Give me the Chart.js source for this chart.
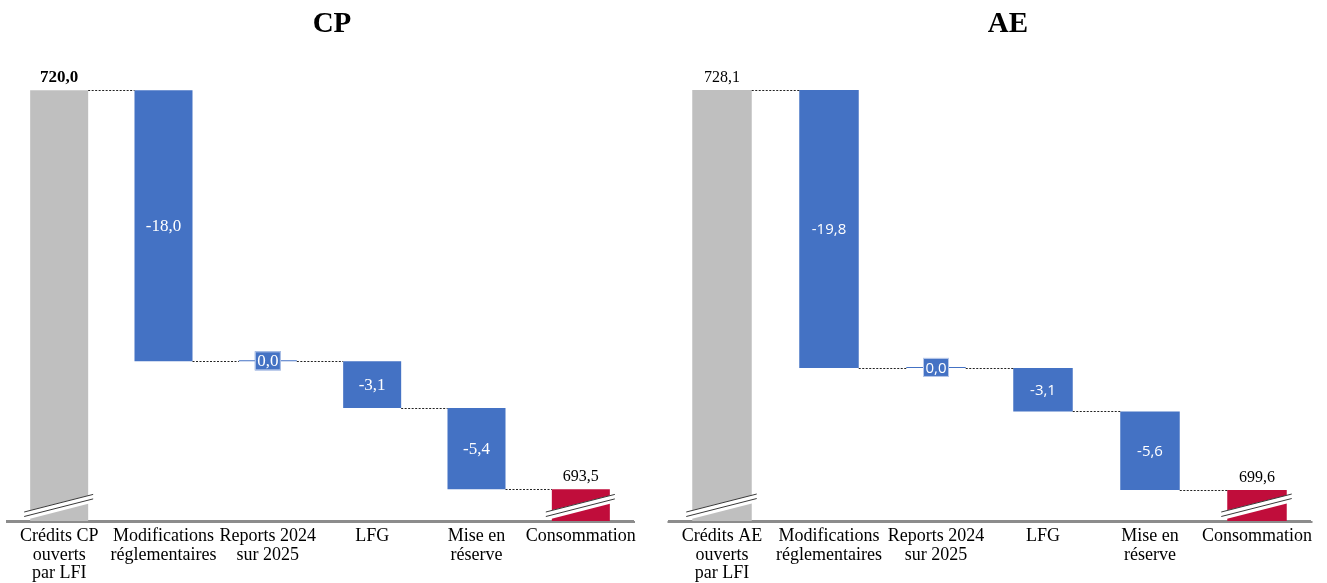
<!DOCTYPE html>
<html><head><meta charset="utf-8">
<script src="https://cdn.jsdelivr.net/npm/chart.js@4.4.1/dist/chart.umd.min.js"></script>
<style>
html,body{margin:0;padding:0;background:#fff;}
#wrap{position:relative;width:1327px;height:583px;overflow:hidden;}
#c1{position:absolute;left:0;top:0;width:663px;height:583px;}
#c2{position:absolute;left:663px;top:0;width:664px;height:583px;}
</style></head><body>
<div id="wrap"><canvas id="c1" width="663" height="583"></canvas><canvas id="c2" width="664" height="583"></canvas></div>
<script>
// ---- data ----
const cpCategories = [['Crédits CP','ouverts','par LFI'], ['Modifications','réglementaires'], ['Reports 2024','sur 2025'], 'LFG', ['Mise en','réserve'], 'Consommation'];
const cpStart = 720.0;
const cpDeltas = [-18.0, 0.0, -3.1, -5.4];
const cpEnd = 693.5;
const cpAxisMin = 691.4;
const cpAxisMax = 723.0;

const aeCategories = [['Crédits AE','ouverts','par LFI'], ['Modifications','réglementaires'], ['Reports 2024','sur 2025'], 'LFG', ['Mise en','réserve'], 'Consommation'];
const aeStart = 728.1;
const aeDeltas = [-19.8, 0.0, -3.1, -5.6];
const aeEnd = 699.6;
const aeAxisMin = 697.4;
const aeAxisMax = 731.3;

// ---- helpers ----
const fmt = v => (Math.abs(v) < 0.05 ? 0 : v).toFixed(1).replace('.', ',');
const GRAY = '#BFBFBF', BLUE = '#4472C4', RED = '#C00D3B';
const decor = {};

const waterfallPlugin = {
  id: 'waterfall',
  afterDatasetsDraw(chart) {
    const o = decor[chart.canvas.id];
    const ctx = chart.ctx;
    const els = chart.getDatasetMeta(0).data;
    const ys = chart.scales.y;
    const axisY = chart.chartArea.bottom;
    const n = els.length;
    ctx.save();
    // connectors
    ctx.strokeStyle = '#222';
    ctx.lineWidth = 1;
    ctx.setLineDash([2, 1.5]);
    for (let i = 0; i < n - 1; i++) {
      const y = Math.round(ys.getPixelForValue(o.levels[i])) + 0.5;
      const a = els[i], b = els[i + 1];
      ctx.beginPath();
      ctx.moveTo(a.x + a.width / 2, y);
      ctx.lineTo(b.x - b.width / 2, y);
      ctx.stroke();
    }
    ctx.setLineDash([]);
    // break marks on total bars
    [els[0], els[n - 1]].forEach(el => {
      const L = el.x - el.width / 2 - 6, R = el.x + el.width / 2 + 5;
      const rise = (R - L) * 0.255;
      ctx.strokeStyle = '#fff';
      ctx.lineWidth = 8;
      ctx.beginPath();
      ctx.moveTo(L, axisY - 5); ctx.lineTo(R, axisY - 5 - rise); ctx.stroke();
      ctx.strokeStyle = '#3a3a3a';
      ctx.lineWidth = 1;
      [9, 4.5].forEach(k => {
        ctx.beginPath();
        ctx.moveTo(L, axisY - k); ctx.lineTo(R, axisY - k - rise); ctx.stroke();
      });
    });
    // redraw axis line over the marks
    ctx.strokeStyle = '#8C8C8C';
    ctx.lineWidth = 2;
    ctx.beginPath();
    ctx.moveTo(chart.chartArea.left - 1, axisY + 1);
    ctx.lineTo(chart.chartArea.right + 2, axisY + 1);
    ctx.stroke();
    // labels
    ctx.textAlign = 'center';
    els.forEach((el, i) => {
      const top = Math.min(el.y, el.base), bot = Math.max(el.y, el.base);
      if (i === 0 || i === n - 1) {
        const v = i === 0 ? o.start : o.end;
        ctx.fillStyle = '#000';
        ctx.font = (i === 0 && o.totalBold) ? 'bold 17px "Liberation Serif"' : '16px "Liberation Serif"';
        ctx.textBaseline = 'alphabetic';
        ctx.fillText(fmt(v), el.x, top - 8);
      } else {
        const d = o.deltas[i - 1];
        const cy = (top + bot) / 2;
        ctx.font = o.innerFont;
        ctx.textBaseline = 'middle';
        if (Math.abs(d) < 0.05) {
          ctx.fillStyle = BLUE;
          ctx.fillRect(el.x - 13, cy - 9.5, 26, 19);
          ctx.strokeStyle = '#B8C9EA';
          ctx.lineWidth = 1;
          ctx.strokeRect(el.x - 13 + 0.5, cy - 9.5 + 0.5, 25, 18);
        }
        ctx.fillStyle = '#fff';
        ctx.fillText(fmt(d), el.x, cy + 1);
      }
    });
    // title
    ctx.fillStyle = '#000';
    ctx.font = 'bold 29px "Liberation Serif"';
    ctx.textBaseline = 'alphabetic';
    ctx.fillText(o.title, o.titleX, 32);
    ctx.restore();
  }
};

function buildChart(id, categories, start, deltas, end, yMin, yMax, opts) {
  const levels = [start];
  deltas.forEach(d => levels.push(Math.round((levels[levels.length - 1] + d) * 10) / 10));
  const data = [start, ...deltas.map((d, i) => [levels[i], levels[i + 1]]), end];
  const colors = [GRAY, ...deltas.map(() => BLUE), RED];
  decor[id] = { levels, start, end, deltas, title: opts.title, titleX: opts.titleX, totalBold: opts.totalBold, innerFont: opts.innerFont };
  return new Chart(document.getElementById(id), {
    type: 'bar',
    data: { labels: categories, datasets: [{ data, backgroundColor: colors, borderWidth: 0, minBarLength: 1, categoryPercentage: 1, barPercentage: 0.556 }] },
    options: {
      responsive: false, animation: false,
      layout: { padding: { left: opts.padL, right: opts.padR, top: 45, bottom: 0 } },
      plugins: { legend: { display: false }, tooltip: { enabled: false }, title: { display: false } },
      scales: {
        x: {
          grid: { display: false, drawTicks: false },
          border: { display: true, color: '#8C8C8C', width: 2 },
          ticks: { color: '#000', font: { family: 'Liberation Serif', size: 18, lineHeight: 1.03 }, padding: 6, maxRotation: 0, autoSkip: false },
          afterFit: s => { s.height = 62; }
        },
        y: { display: false, min: yMin, max: yMax }
      }
    },
    plugins: [waterfallPlugin]
  });
}

buildChart('c1', cpCategories, cpStart, cpDeltas, cpEnd, cpAxisMin, cpAxisMax,
  { padL: 7, padR: 30, title: 'CP', titleX: 332, totalBold: true, innerFont: '17px "Liberation Serif"' });
buildChart('c2', aeCategories, aeStart, aeDeltas, aeEnd, aeAxisMin, aeAxisMax,
  { padL: 5.5, padR: 16.5, title: 'AE', titleX: 345, totalBold: false, innerFont: '15px "Open Sans"' });
</script>
</body></html>
